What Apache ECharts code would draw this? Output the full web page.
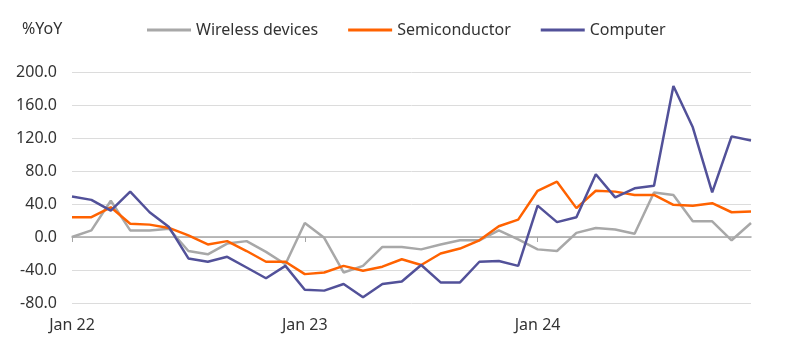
<!DOCTYPE html>
<html>
<head>
<meta charset="utf-8">
<script src="https://cdn.jsdelivr.net/npm/echarts@6/dist/echarts.min.js"></script>
<style>
  html, body { margin: 0; padding: 0; background: #fff; }
  #chart { width: 800px; height: 351px; }
</style>
</head>
<body>
<div id="chart"></div>
<script>
const months = [
  'Jan 22', 'Feb 22', 'Mar 22', 'Apr 22', 'May 22', 'Jun 22', 'Jul 22', 'Aug 22', 'Sep 22', 'Oct 22', 'Nov 22', 'Dec 22',
  'Jan 23', 'Feb 23', 'Mar 23', 'Apr 23', 'May 23', 'Jun 23', 'Jul 23', 'Aug 23', 'Sep 23', 'Oct 23', 'Nov 23', 'Dec 23',
  'Jan 24', 'Feb 24', 'Mar 24', 'Apr 24', 'May 24', 'Jun 24', 'Jul 24', 'Aug 24', 'Sep 24', 'Oct 24', 'Nov 24', 'Dec 24'
]

const wireless = [
  0, 8, 44, 8, 8, 10, -17, -21, -8, -5, -18, -33,
  17, -1, -43, -35, -12, -12, -15, -9, -4, -4, 8, -3,
  -15, -17, 5, 11, 9, 4, 54, 51, 19, 19, -4, 17
]

const semiconductor = [
  24, 24, 36, 16, 15, 11, 2, -9, -5, -17, -30, -30,
  -45, -43, -35, -41, -36, -27, -34, -20, -14, -4, 13, 21,
  56, 67, 35, 56, 55, 51, 51, 39, 38, 41, 30, 31
]

const computer = [
  49, 45, 32, 55, 30, 12, -26, -30, -24, -37, -50, -35,
  -64, -65, -57, -73, -57, -54, -34, -55, -55, -30, -29, -35,
  38, 18, 24, 76, 48, 59, 62, 183, 133, 54, 122, 117
]

const seriesNames = ['Wireless devices', 'Semiconductor', 'Computer']
const seriesColors = ['#A8A8A8', '#FF6200', '#525199']

const FONT = 'Noto Sans'
const TEXT_COLOR = '#333333'

const chart = echarts.init(document.getElementById('chart'))

const makeLine = (name, data, color) => ({
  name,
  type: 'line',
  data,
  xAxisIndex: 0,
  symbol: 'none',
  lineStyle: { color, width: 2.5 },
  itemStyle: { color },
  z: 3
})

chart.setOption({
  animation: false,
  textStyle: { fontFamily: FONT },
  title: {
    text: '%YoY',
    left: 17,
    top: 16,
    textStyle: { fontFamily: FONT, fontSize: 16, fontWeight: 'normal', color: TEXT_COLOR }
  },
  legend: {
    data: seriesNames,
    left: 142,
    top: 17,
    icon: 'rect',
    itemWidth: 44,
    itemHeight: 3,
    itemGap: 30,
    textStyle: { fontFamily: FONT, fontSize: 16, color: TEXT_COLOR }
  },
  grid: { left: 72, right: 49, top: 72, bottom: 48 },
  xAxis: [
    {
      type: 'category',
      data: months,
      boundaryGap: false,
      axisLine: { onZero: true, lineStyle: { color: '#A6A6A6', width: 1.5 } },
      axisTick: { show: true, interval: 11, length: 5, lineStyle: { color: '#A6A6A6' } },
      axisLabel: { show: false }
    },
    {
      type: 'category',
      data: months,
      boundaryGap: false,
      position: 'bottom',
      axisLine: { show: false, onZero: false },
      axisTick: { show: false },
      axisLabel: {
        interval: 11,
        margin: 14,
        fontFamily: FONT,
        fontSize: 16,
        color: TEXT_COLOR
      }
    }
  ],
  yAxis: {
    type: 'value',
    min: -80,
    max: 200,
    interval: 40,
    axisLine: { show: false },
    axisTick: { show: false },
    splitLine: { lineStyle: { color: '#DCDCDC', width: 1 } },
    axisLabel: {
      margin: 15,
      fontFamily: FONT,
      fontSize: 16,
      color: TEXT_COLOR,
      formatter: v => v.toFixed(1)
    }
  },
  series: [
    makeLine(seriesNames[0], wireless, seriesColors[0]),
    makeLine(seriesNames[1], semiconductor, seriesColors[1]),
    makeLine(seriesNames[2], computer, seriesColors[2])
  ]
})
</script>
</body>
</html>
